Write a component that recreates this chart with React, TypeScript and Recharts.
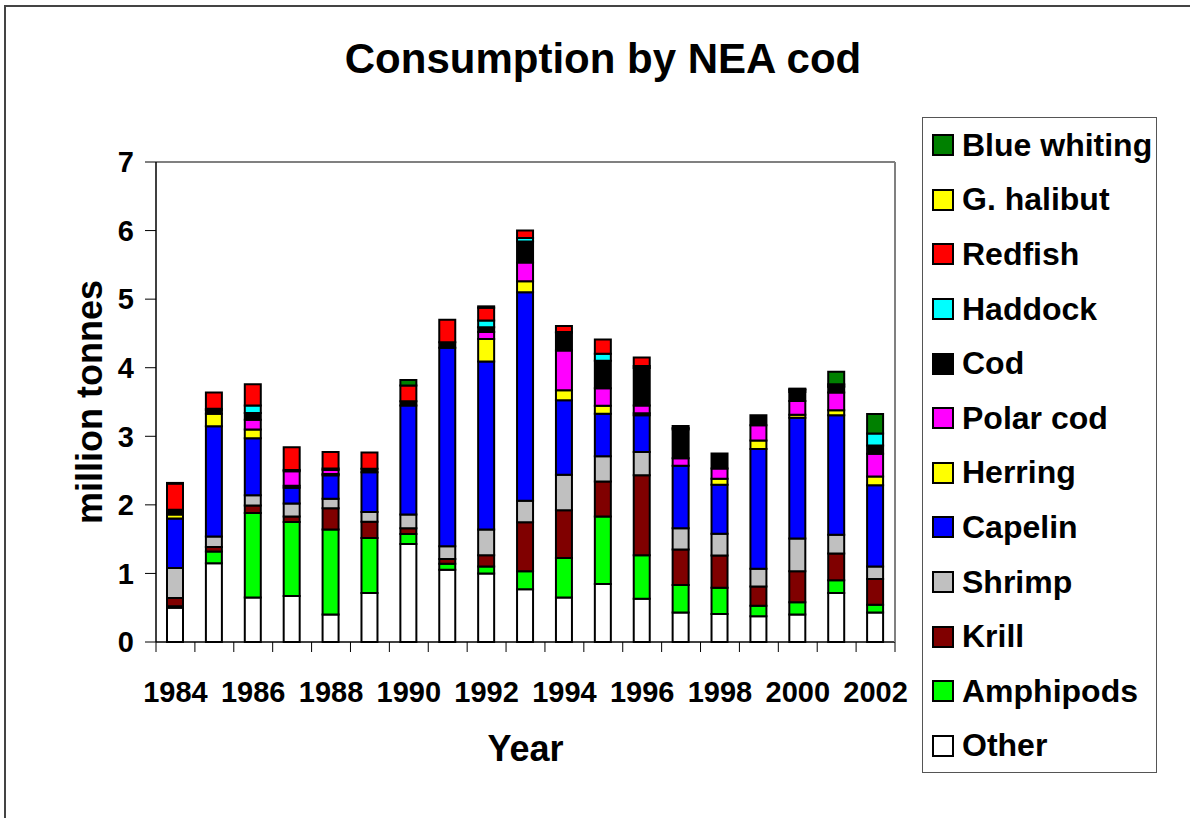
import { BarChart, Bar, XAxis, YAxis, ReferenceLine } from 'recharts';

// consumption by NEA cod, million tonnes
const years = [1984, 1985, 1986, 1987, 1988, 1989, 1990, 1991, 1992, 1993, 1994, 1995, 1996, 1997, 1998, 1999, 2000, 2001, 2002];

const other = [0.5, 1.15, 0.65, 0.67, 0.4, 0.715, 1.43, 1.055, 1.0, 0.77, 0.65, 0.845, 0.63, 0.43, 0.41, 0.375, 0.4, 0.715, 0.43];
const amphipods = [0.02, 0.17, 1.23, 1.08, 1.24, 0.8, 0.145, 0.085, 0.1, 0.26, 0.575, 0.985, 0.635, 0.4, 0.38, 0.155, 0.18, 0.185, 0.115];
const krill = [0.12, 0.065, 0.11, 0.08, 0.31, 0.24, 0.085, 0.07, 0.165, 0.715, 0.695, 0.51, 1.165, 0.52, 0.47, 0.28, 0.45, 0.39, 0.375];
const shrimp = [0.44, 0.155, 0.15, 0.19, 0.14, 0.14, 0.2, 0.185, 0.375, 0.315, 0.52, 0.37, 0.34, 0.31, 0.32, 0.26, 0.48, 0.275, 0.18];
const capelin = [0.72, 1.605, 0.83, 0.23, 0.34, 0.58, 1.59, 2.895, 2.45, 3.04, 1.085, 0.62, 0.535, 0.91, 0.715, 1.745, 1.76, 1.74, 1.185];
const herring = [0.06, 0.185, 0.13, 0.03, 0.02, 0, 0, 0, 0.33, 0.16, 0.145, 0.115, 0.03, 0, 0.085, 0.125, 0.045, 0.075, 0.13];
const polarCod = [0, 0, 0.14, 0.21, 0.06, 0, 0, 0, 0.1, 0.275, 0.58, 0.255, 0.115, 0.11, 0.15, 0.22, 0.2, 0.26, 0.33];
const cod = [0.05, 0.05, 0.1, 0.02, 0.02, 0.05, 0.06, 0.08, 0.07, 0.305, 0.26, 0.4, 0.545, 0.42, 0.22, 0.145, 0.13, 0.08, 0.12];
const haddock = [0.02, 0.02, 0.11, 0, 0, 0, 0, 0, 0.1, 0.05, 0.01, 0.105, 0.03, 0.02, 0, 0, 0.03, 0.02, 0.175];
const redfish = [0.38, 0.24, 0.31, 0.33, 0.24, 0.24, 0.23, 0.33, 0.185, 0.11, 0.09, 0.205, 0.125, 0, 0, 0, 0, 0, 0];
const gHalibut = [0.01, 0, 0, 0, 0, 0, 0, 0, 0.02, 0, 0, 0, 0, 0, 0, 0, 0.01, 0.02, 0];
const blueWhiting = [0, 0, 0, 0, 0, 0, 0.08, 0, 0, 0, 0, 0, 0, 0.03, 0, 0, 0.01, 0.18, 0.285];

const yTicks = [0, 1, 2, 3, 4, 5, 6, 7];

// bottom of the stack first
const series = [
  { key: 'other', name: 'Other', color: '#ffffff', values: other },
  { key: 'amphipods', name: 'Amphipods', color: '#00ff00', values: amphipods },
  { key: 'krill', name: 'Krill', color: '#800000', values: krill },
  { key: 'shrimp', name: 'Shrimp', color: '#c0c0c0', values: shrimp },
  { key: 'capelin', name: 'Capelin', color: '#0000ff', values: capelin },
  { key: 'herring', name: 'Herring', color: '#ffff00', values: herring },
  { key: 'polarCod', name: 'Polar cod', color: '#ff00ff', values: polarCod },
  { key: 'cod', name: 'Cod', color: '#000000', values: cod },
  { key: 'haddock', name: 'Haddock', color: '#00ffff', values: haddock },
  { key: 'redfish', name: 'Redfish', color: '#ff0000', values: redfish },
  { key: 'gHalibut', name: 'G. halibut', color: '#ffff00', values: gHalibut },
  { key: 'blueWhiting', name: 'Blue whiting', color: '#008000', values: blueWhiting },
];

const data = years.map((year, i) => {
  const row: Record<string, number> = { year };
  series.forEach((s) => {
    row[s.key] = s.values[i];
  });
  return row;
});

const FONT = '"Liberation Sans", Arial, sans-serif';
const PLOT_W = 739;
const step = PLOT_W / years.length;

const YearTick = (props: any) => {
  const { x, y, payload, index } = props;
  return (
    <g>
      <line x1={x - step / 2} x2={x - step / 2} y1={y} y2={y + 10} stroke="#000" strokeWidth={1} />
      {index === years.length - 1 && (
        <line x1={x + step / 2} x2={x + step / 2} y1={y} y2={y + 10} stroke="#000" strokeWidth={1} />
      )}
      {index % 2 === 0 && (
        <text x={x} y={y + 60} textAnchor="middle" fontFamily={FONT} fontWeight="bold" fontSize={29} fill="#000">
          {payload.value}
        </text>
      )}
    </g>
  );
};

const renderYLabel = (props: any) => {
  const vb = props.viewBox;
  const cx = vb.x + 36;
  const cy = vb.y + vb.height / 2;
  return (
    <text
      x={cx}
      y={cy}
      transform={`rotate(-90 ${cx} ${cy})`}
      textAnchor="middle"
      fontFamily={FONT}
      fontWeight="bold"
      fontSize={36}
      fill="#000"
    >
      million tonnes
    </text>
  );
};

const renderXLabel = (props: any) => {
  const vb = props.viewBox;
  return (
    <text
      x={vb.x + vb.width / 2}
      y={761}
      textAnchor="middle"
      fontFamily={FONT}
      fontWeight="bold"
      fontSize={36}
      fill="#000"
    >
      Year
    </text>
  );
};

const App = () => {
  const legendItems = [...series].reverse();
  return (
    <div style={{ position: 'absolute', left: 0, top: 0, width: 1190, height: 818, background: '#fff', overflow: 'hidden' }}>
      {/* outer frame of the chart area */}
      <div
        style={{
          position: 'absolute',
          left: 4,
          top: 5,
          width: 1200,
          height: 830,
          borderLeft: '2px solid #444',
          borderTop: '2px solid #444',
        }}
      />
      <div
        style={{
          position: 'absolute',
          left: 203,
          top: 38,
          width: 800,
          textAlign: 'center',
          fontFamily: FONT,
          fontWeight: 'bold',
          fontSize: 42,
          lineHeight: '42px',
          color: '#000',
        }}
      >
        Consumption by NEA cod
      </div>

      <div style={{ position: 'absolute', left: 0, top: 0 }}>
        <BarChart
          width={1190}
          height={818}
          data={data}
          margin={{ top: 162, right: 294, bottom: 46, left: 66 }}
          barSize={16}
        >
          <XAxis
            dataKey="year"
            interval={0}
            height={130}
            tickSize={0}
            tickMargin={0}
            tickLine={false}
            axisLine={{ stroke: '#000', strokeWidth: 1.5 }}
            tick={<YearTick />}
            label={renderXLabel}
          />
          <YAxis
            domain={[0, 7]}
            ticks={yTicks}
            width={90}
            tickSize={11}
            tickMargin={11}
            axisLine={{ stroke: '#000', strokeWidth: 1.5 }}
            tickLine={{ stroke: '#000', strokeWidth: 1 }}
            tick={{ fontFamily: FONT, fontWeight: 'bold', fontSize: 29, fill: '#000' }}
            label={renderYLabel}
          />
          <YAxis
            yAxisId="frame"
            orientation="right"
            domain={[0, 7]}
            width={1}
            tick={false}
            tickLine={false}
            axisLine={{ stroke: '#808080', strokeWidth: 2 }}
          />
          <ReferenceLine y={7} stroke="#808080" strokeWidth={2} />
          {series.map((s) => (
            <Bar
              key={s.key}
              dataKey={s.key}
              name={s.name}
              stackId="a"
              fill={s.color}
              stroke="#000"
              strokeWidth={2}
              isAnimationActive={false}
            />
          ))}
        </BarChart>
      </div>

      {/* legend */}
      <div
        style={{
          position: 'absolute',
          left: 922,
          top: 117,
          width: 235,
          height: 656,
          border: '1px solid #555',
          background: '#fff',
          boxSizing: 'border-box',
        }}
      >
        {legendItems.map((s) => (
          <div
            key={s.key}
            style={{
              height: 54.6,
              display: 'flex',
              alignItems: 'center',
              paddingLeft: 9,
              fontFamily: FONT,
              fontWeight: 'bold',
              fontSize: 32,
              color: '#000',
              whiteSpace: 'nowrap',
            }}
          >
            <span
              style={{
                display: 'inline-block',
                width: 18,
                height: 18,
                background: s.color,
                border: '2px solid #000',
                marginRight: 8,
                flex: 'none',
              }}
            />
            {s.name}
          </div>
        ))}
      </div>
    </div>
  );
};

export default App;
